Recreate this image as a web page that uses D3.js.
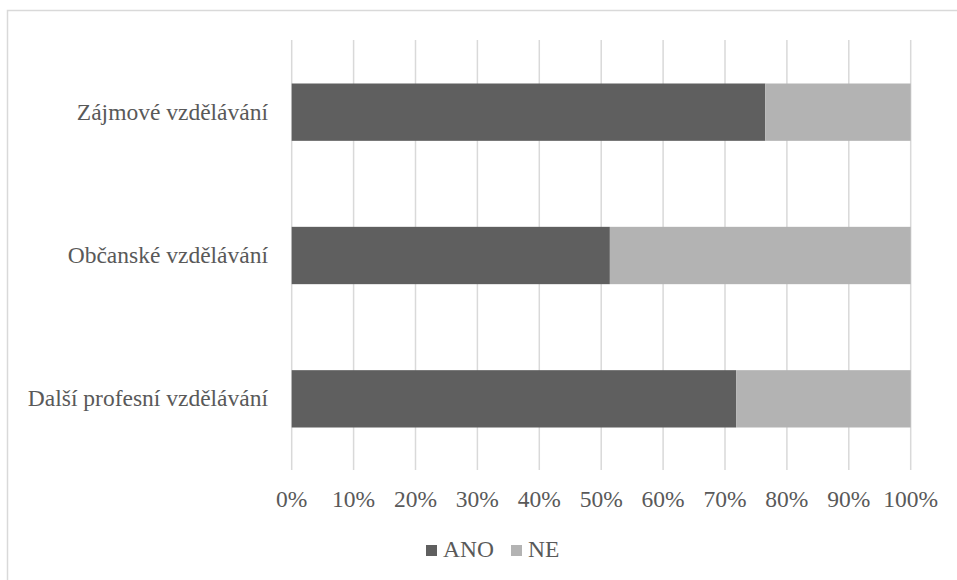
<!DOCTYPE html>
<html><head><meta charset="utf-8">
<script src="https://cdn.jsdelivr.net/npm/d3@7"></script>
<style>html,body{margin:0;padding:0;background:#fff;}svg{display:block;}</style>
</head><body>
<svg id="chart" width="957" height="580"></svg>
<script>
const categories = ["Zájmové vzdělávání", "Občanské vzdělávání", "Další profesní vzdělávání"];
const seriesNames = ["ANO", "NE"];
const ano = [76.5, 51.4, 71.8];
const ne = [23.5, 48.6, 28.2];
const tickValues = [0, 10, 20, 30, 40, 50, 60, 70, 80, 90, 100];
const colors = ["#5f5f5f", "#b3b3b3"];

const svg = d3.select("#chart");
const font = "'Liberation Serif', 'Times New Roman', serif";
const textColor = "#595959";

svg.append("rect").attr("x", 7.5).attr("y", 10.5).attr("width", 960).attr("height", 600)
  .attr("fill", "#fff").attr("stroke", "#d9d9d9").attr("stroke-width", 1.5);

const x = d3.scaleLinear().domain([0, 100]).range([291.7, 910.7]);
const y = d3.scaleBand().domain(categories).range([40.5, 470.5]).paddingInner(0.6).paddingOuter(0.3);

// gridlines
svg.append("g").selectAll("line").data(tickValues).join("line")
  .attr("x1", d => x(d)).attr("x2", d => x(d))
  .attr("y1", 40).attr("y2", 470)
  .attr("stroke", "#d9d9d9").attr("stroke-width", 1.5);

const rows = categories.map((c, i) => ({cat: c, vals: [ano[i], ne[i]]}));
const stackData = categories.map((c, i) => ({cat: c, ANO: ano[i], NE: ne[i]}));
const stacked = d3.stack().keys(seriesNames)(stackData);

svg.append("g").selectAll("g").data(stacked).join("g")
  .attr("fill", (d, i) => colors[i])
  .selectAll("rect").data(d => d).join("rect")
  .attr("x", d => x(d[0]))
  .attr("width", d => x(d[1]) - x(d[0]))
  .attr("y", d => y(d.data.cat))
  .attr("height", y.bandwidth());

// category labels
svg.append("g").selectAll("text").data(categories).join("text")
  .attr("x", 268).attr("y", d => y(d) + y.bandwidth() / 2 + 7.5)
  .attr("text-anchor", "end")
  .attr("font-family", font).attr("font-size", 23.5).attr("fill", textColor)
  .text(d => d);

// x tick labels
svg.append("g").selectAll("text").data(tickValues).join("text")
  .attr("x", d => x(d)).attr("y", 506.5)
  .attr("text-anchor", "middle")
  .attr("font-family", font).attr("font-size", 23.5).attr("fill", textColor)
  .text(d => d + "%");

// legend
const legendItems = [{name: "ANO", sx: 426, tx: 443}, {name: "NE", sx: 511, tx: 528}];
const lg = svg.append("g");
legendItems.forEach((it, i) => {
  lg.append("rect").attr("x", it.sx).attr("y", 545).attr("width", 11).attr("height", 11).attr("fill", colors[i]);
  lg.append("text").attr("x", it.tx).attr("y", 557)
    .attr("font-family", font).attr("font-size", 23.5).attr("fill", textColor)
    .text(seriesNames[i]);
});
</script>
</body></html>
